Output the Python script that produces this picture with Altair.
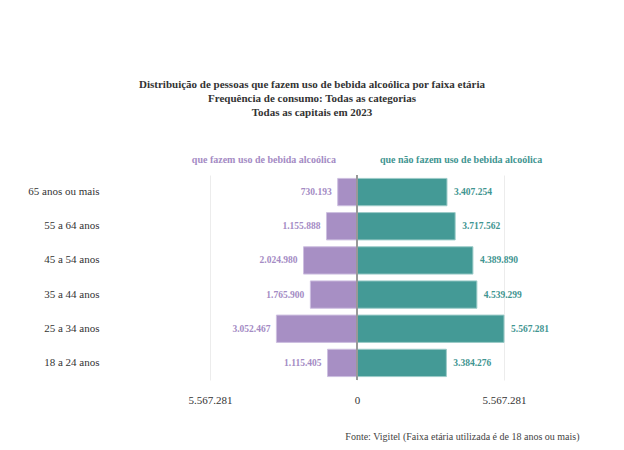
import altair as alt
import pandas as pd

faixas = ["65 anos ou mais", "55 a 64 anos", "45 a 54 anos", "35 a 44 anos", "25 a 34 anos", "18 a 24 anos"]
fazem = [730193, 1155888, 2024980, 1765900, 3052467, 1115405]
nao_fazem = [3407254, 3717562, 4389890, 4539299, 5567281, 3384276]
grupos = ["que fazem uso de bebida alcoólica", "que não fazem uso de bebida alcoólica"]
cores = ["#a78fc4", "#449a96"]
cores_borda = ["#cdbfe0", "#9ccbc8"]

def fmt(v):
    return f"{v:,}".replace(",", ".")

rows = []
for f, a, b in zip(faixas, fazem, nao_fazem):
    rows.append({"faixa": f, "grupo": grupos[0], "valor": -a, "rotulo": fmt(a)})
    rows.append({"faixa": f, "grupo": grupos[1], "valor": b, "rotulo": fmt(b)})
df = pd.DataFrame(rows)

vmax = max(nao_fazem + fazem)
D_LEFT = 9354000
D_RIGHT = 8218000
FONT = "Liberation Serif"

x = alt.X("valor:Q",
          scale=alt.Scale(domain=[-D_LEFT, D_RIGHT], nice=False, zero=False),
          axis=alt.Axis(values=[-vmax, 0, vmax],
                        labelExpr="replace(replace(format(abs(datum.value), ','), ',', '.'), ',', '.')",
                        grid=True, gridColor="#ececec", domain=False, ticks=False,
                        labelFont=FONT, labelFontSize=11, labelColor="#333",
                        labelPadding=14,
                        title="Fonte: Vigitel (Faixa etária utilizada é de 18 anos ou mais)",
                        titleFont=FONT, titleFontSize=10, titleFontWeight="normal",
                        titleColor="#444", titleAnchor="end", titleAlign="right",
                        titleBaseline="middle", titleX=469, titleY=56))
y = alt.Y("faixa:N", sort=faixas,
          scale=alt.Scale(paddingInner=0.2, paddingOuter=0.1),
          axis=alt.Axis(title=None, domain=False, ticks=False, labelFont=FONT,
                        labelFontSize=11, labelColor="#333", labelPadding=11))

base = alt.Chart(df)

bars = base.mark_bar(strokeWidth=1).encode(
    x=x, y=y,
    color=alt.Color("grupo:N", scale=alt.Scale(domain=grupos, range=cores), legend=None),
    stroke=alt.Stroke("grupo:N", scale=alt.Scale(domain=grupos, range=cores_borda), legend=None),
)

left_txt = base.transform_filter(alt.datum.valor < 0).mark_text(
    align="right", baseline="middle", dx=-6, font=FONT, fontSize=9.5, fontWeight="bold", color="#a48bc4"
).encode(x="valor:Q", y=alt.Y("faixa:N", sort=faixas), text="rotulo:N")

right_txt = base.transform_filter(alt.datum.valor > 0).mark_text(
    align="left", baseline="middle", dx=7, font=FONT, fontSize=9.5, fontWeight="bold", color="#3f9591"
).encode(x="valor:Q", y=alt.Y("faixa:N", sort=faixas), text="rotulo:N")

zero = alt.Chart(pd.DataFrame({"z": [0]})).mark_rule(color="#999", strokeWidth=2).encode(x=alt.X("z:Q"))

hdr = pd.DataFrame({"g": grupos, "z": [0, 0]})
hdr_left = alt.Chart(hdr.iloc[[0]]).mark_text(
    align="right", baseline="middle", dx=-21, font=FONT, fontSize=10, fontWeight="bold", color="#a48bc4"
).encode(x=alt.X("z:Q"), y=alt.value(-15), text="g:N")
hdr_right = alt.Chart(hdr.iloc[[1]]).mark_text(
    align="left", baseline="middle", dx=23, font=FONT, fontSize=10, fontWeight="bold", color="#3f9591"
).encode(x=alt.X("z:Q"), y=alt.value(-15), text="g:N")

chart = alt.layer(bars, zero, left_txt, right_txt, hdr_left, hdr_right).properties(
    width=464, height=205,
    title=alt.TitleParams(
        text=["Distribuição de pessoas que fazem uso de bebida alcoólica por faixa etária",
              "Frequência de consumo: Todas as categorias",
              "Todas as capitais em 2023"],
        font=FONT, fontSize=11, fontWeight="bold", color="#333", anchor="middle",
        frame="group", dx=-30, offset=37, lineHeight=14),
    padding={"left": 19, "top": 71, "right": 10, "bottom": 10},
).configure(background="white").configure_view(stroke=None, strokeWidth=0)

chart.save("out.html", embed_options={"renderer": "svg", "actions": False})
